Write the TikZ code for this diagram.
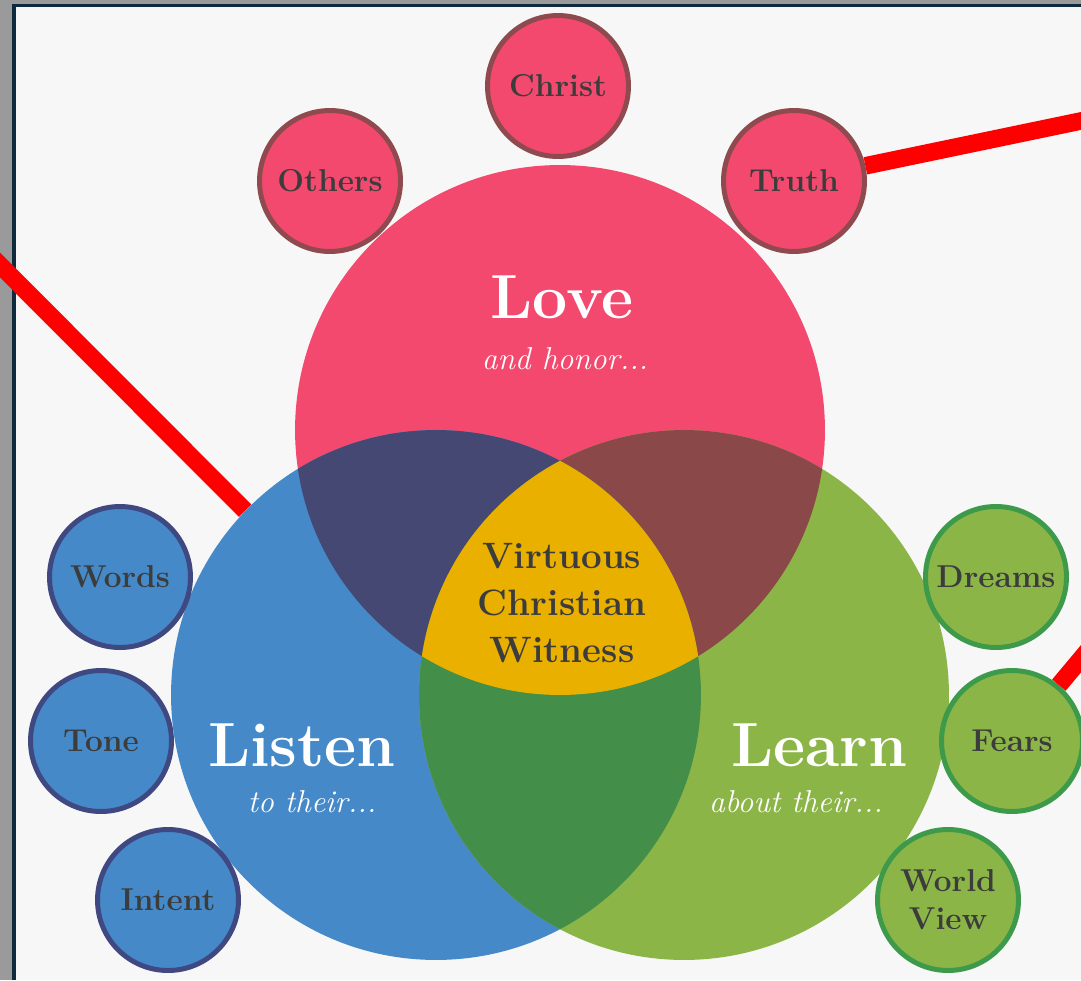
\documentclass[tikz,border=0pt]{standalone}
\usepackage{fontspec}
\definecolor{framegray}{HTML}{9A9A9A}
\definecolor{framenavy}{HTML}{0F2A3C}
\definecolor{paper}{HTML}{F7F7F7}
\definecolor{lovepink}{HTML}{F4496F}
\definecolor{listenblue}{HTML}{4589C9}
\definecolor{learngreen}{HTML}{8CB548}
\definecolor{navyover}{HTML}{444872}
\definecolor{brownover}{HTML}{8A4848}
\definecolor{greenover}{HTML}{438E48}
\definecolor{goldover}{HTML}{E9B000}
\definecolor{textgray}{HTML}{3C3C3C}
\definecolor{pinkedge}{HTML}{8E4A4E}
\definecolor{blueedge}{HTML}{3F4880}
\definecolor{greenedge}{HTML}{3D9A4A}

\begin{document}
\begin{tikzpicture}[x=0.02cm, y=-0.02cm,
    bigcircle/.style={circle, minimum size=10.6cm, inner sep=0pt},
    petal/.style={circle, minimum size=2.82cm, inner sep=0pt, line width=2.83pt,
        text=textgray, align=center, font=\fontsize{18}{21.5}\selectfont\bfseries},
    bigword/.style={anchor=base, text=white, font=\fontsize{35.5}{40}\selectfont\bfseries},
    subword/.style={anchor=base, text=white, font=\fontsize{18}{22}\selectfont\itshape},
    redline/.style={red, line width=10pt}]
        \useasboundingbox (0,0) rectangle (1081,980);
        \clip (0,0) rectangle (1081,980);

        % Frame
        \fill[framegray] (0,0) rectangle (1081,980);
        \fill[framenavy] (12,4) rectangle (1081,980);
        \fill[paper] (16,7) rectangle (1081,980);

        % Big circles
        \node[bigcircle, fill=lovepink] (love) at (560,430) {};
        \node[bigcircle, fill=listenblue] (listen) at (436,695) {};
        \node[bigcircle, fill=learngreen] (learn) at (684,695) {};

        % Overlaps
        \begin{scope}
            \clip (love.center) circle[radius=5.3cm];
            \fill[navyover] (listen.center) circle[radius=5.3cm];
            \fill[brownover] (learn.center) circle[radius=5.3cm];
        \end{scope}
        \begin{scope}
            \clip (listen.center) circle[radius=5.3cm];
            \fill[greenover] (learn.center) circle[radius=5.3cm];
        \end{scope}
        \begin{scope}
            \clip (love.center) circle[radius=5.3cm];
            \clip (listen.center) circle[radius=5.3cm];
            \fill[goldover] (learn.center) circle[radius=5.3cm];
        \end{scope}

        % Labels in the big circles
        \node[bigword] (lovetitle) at (562,318) {Love};
        \node[subword] (lovesub) at (565,369) {and honor...};
        \node[bigword] (listentitle) at (302,766) {Listen};
        \node[subword] (listensub) at (312,812) {to their...};
        \node[bigword] (learntitle) at (819,766) {Learn};
        \node[subword] (learnsub) at (796,812) {about their...};
        \node[text=textgray, align=center, font=\fontsize{20.9}{26.6}\selectfont\bfseries]
            (witness) at (562,603) {Virtuous\\Christian\\Witness};

        % Small circles
        \node[petal, fill=lovepink, draw=pinkedge] (others) at (330,181) {Others};
        \node[petal, fill=lovepink, draw=pinkedge] (christ) at (558,86) {Christ};
        \node[petal, fill=lovepink, draw=pinkedge] (truth) at (794,181) {Truth};
        \node[petal, fill=listenblue, draw=blueedge] (words) at (120,577) {Words};
        \node[petal, fill=listenblue, draw=blueedge] (tone) at (101,741) {Tone};
        \node[petal, fill=listenblue, draw=blueedge] (intent) at (168,900) {Intent};
        \node[petal, fill=learngreen, draw=greenedge] (dreams) at (996,577) {Dreams};
        \node[petal, fill=learngreen, draw=greenedge] (fears) at (1012,741) {Fears};
        \node[petal, fill=learngreen, draw=greenedge] (worldview) at (948,900) {World\\View};

        % Red pointers
        \coordinate (offleft) at (-15,250);
        \coordinate (offtop) at (1100,117);
        \coordinate (offright) at (1100,636);
        \draw[redline] (listen.136) -- (offleft);
        \draw[redline] (truth.12) -- (offtop);
        \draw[redline] (fears.50) -- (offright);
\end{tikzpicture}
\end{document}
